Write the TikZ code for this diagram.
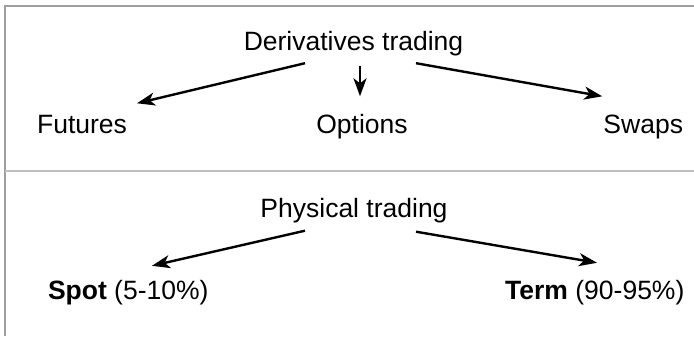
\documentclass[tikz,border=0pt]{standalone}
\usepackage{fontspec}
\setmainfont{Liberation Sans}
\usetikzlibrary{arrows.meta}
\tikzstyle{txt} = [
    inner sep=0pt,
    text height=19pt,
    text depth=5.5pt,
    font=\fontsize{26.5}{30}\selectfont
]
\tikzstyle{frameline} = [line width=2pt]
\tikzstyle{arrow} = [line width=2.4pt,-{Stealth[length=18pt,width=13pt,inset=5pt]}]

\begin{document}
\begin{tikzpicture}[x=1pt, y=1pt, node distance=82.5pt]
\useasboundingbox (0,0) rectangle (694,337);

% frame and divider
\draw [frameline, gray!75] (694,331) -- (5,331) -- (5,1);
\draw [frameline, gray!50] (5,165.5) -- (694,165.5);

% derivatives
\node (deriv) [txt] at (353.5,292.75) {Derivatives trading};

\node (futures) [txt, below of=deriv, xshift=-271.5pt] {Futures};

\node (options) [txt, below of=deriv, xshift=8.5pt] {Options};

\node (swaps) [txt, below of=deriv, xshift=289.75pt] {Swaps};

% physical
\node (physical) [txt, below of=deriv, node distance=166.5pt, xshift=0.5pt]
{Physical trading};

\node (spot) [txt, below of=physical, xshift=-225.75pt]
{\textbf{Spot} (5-10\%)};

\node (term) [txt, below of=physical, xshift=240.8pt]
{\textbf{Term} (90-95\%)};

\draw [arrow] ([xshift=-48.5pt,yshift=-6.5pt]deriv.south) -- ([xshift=55pt,yshift=11pt]futures.north);
\draw [arrow] ([xshift=6.5pt,yshift=-9.5pt]deriv.south) -- ([xshift=-2pt,yshift=18pt]options.north);
\draw [arrow] ([xshift=62.5pt,yshift=-6.5pt]deriv.south) -- ([xshift=-41pt,yshift=18pt]swaps.north);
\draw [arrow] ([xshift=-49pt,yshift=-7.5pt]physical.south) -- ([xshift=23.75pt,yshift=15pt]spot.north);
\draw [arrow] ([xshift=62pt,yshift=-8.5pt]physical.south) -- ([xshift=2.2pt,yshift=18pt]term.north);

\end{tikzpicture}
\end{document}
